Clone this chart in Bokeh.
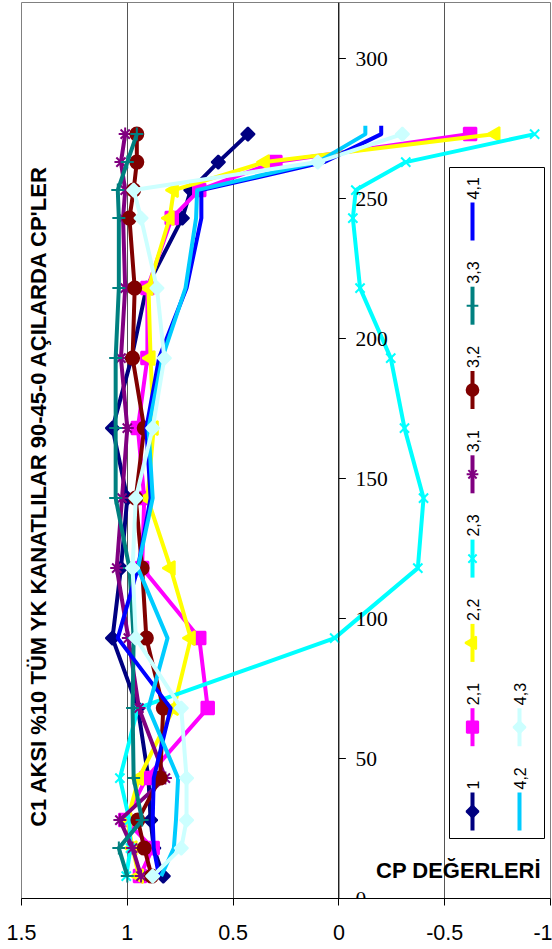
import math
from bokeh.plotting import figure
from bokeh.models import Range1d, FixedTicker, Span, LabelSet, ColumnDataSource, NumeralTickFormatter
from bokeh.core.properties import value
from bokeh.embed import file_html
from bokeh.resources import INLINE

# ---------------- data ----------------
Y_LEVELS = [273, 263, 253, 243, 218, 193, 168, 143, 118, 93, 68, 43, 28, 18, 8]
# series 4,1 and 4,2 carry one extra reading at the top
Y_LEVELS_4 = [276] + Y_LEVELS

CP_1   = [0.43, 0.57, 0.70, 0.74, 0.91, 0.98, 1.07, 1.00, 1.03, 1.07, 0.95, 0.90, 0.89, 0.875, 0.83]
CP_2_1 = [-0.62, 0.30, 0.66, 0.79, 0.905, 0.905, 0.95, 0.92, 0.93, 0.66, 0.62, 0.91, 1.01, 0.88, 0.94]
CP_2_2 = [-0.74, 0.35, 0.78, 0.80, 0.90, 0.89, 0.875, 0.905, 0.795, 0.70, 0.78, 0.945, 1.0, 0.975, 0.945]
CP_2_3 = [-0.925, -0.316, -0.08, -0.066, -0.10, -0.245, -0.31, -0.40, -0.373, 0.02, 0.95, 1.035, 0.99, 0.985, 1.005]
CP_3_1 = [1.01, 1.03, 1.01, 1.02, 1.01, 1.03, 1.0, 1.025, 1.05, 0.995, 0.945, 0.82, 1.035, 0.975, 0.935]
CP_3_2 = [0.955, 0.955, 0.97, 0.99, 0.965, 0.975, 0.92, 0.96, 0.93, 0.91, 0.83, 0.845, 0.95, 0.92, 0.885]
CP_3_3 = [0.955, 1.0, 1.045, 1.04, 1.04, 1.055, 1.055, 1.055, 0.99, 0.97, 0.975, 0.97, 0.93, 1.04, 1.0]
CP_4_1 = [-0.20, -0.20, 0.07, 0.65, 0.65, 0.72, 0.85, 0.91, 0.89, 0.95, 1.045, 0.795, 0.875, 0.88, 0.875, 0.85]
CP_4_2 = [-0.125, -0.125, 0.10, 0.67, 0.675, 0.725, 0.835, 0.90, 0.88, 0.95, 0.81, 0.90, 0.76, 0.77, 0.78, 0.84]
CP_4_3 = [-0.30, 0.10, 0.97, 0.935, 0.86, 0.825, 0.88, 0.96, 0.975, 0.96, 0.745, 0.72, 0.72, 0.745, 0.88]

SERIES_NAMES = ["1", "2,1", "2,2", "2,3", "3,1", "3,2", "3,3", "4,1", "4,2", "4,3"]
SERIES_VALUES = [CP_1, CP_2_1, CP_2_2, CP_2_3, CP_3_1, CP_3_2, CP_3_3, CP_4_1, CP_4_2, CP_4_3]
SERIES_LEVELS = [Y_LEVELS] * 7 + [Y_LEVELS_4, Y_LEVELS_4, Y_LEVELS]

X_TICKS = [1.5, 1, 0.5, 0, -0.5, -1]
X_TICK_LABELS = ["1.5", "1", "0.5", "0", "-0.5", "-1"]
Y_TICKS = [0, 50, 100, 150, 200, 250, 300]
Y_TICK_LABELS = ["0", "50", "100", "150", "200", "250", "300"]

TITLE = "C1 AKSI %10 TÜM YK KANATLILAR  90-45-0 AÇILARDA CP'LER"
X_TITLE = "CP DEĞERLERİ"

# ---------------- styles ----------------
STYLES = {
    "1":   dict(color="#000080", marker="square", size=9.5, angle=math.pi / 4),
    "2,1": dict(color="#FF00FF", marker="square", size=12.5, angle=0.0),
    "2,2": dict(color="#FFFF00", marker="triangle", size=14, angle=math.pi / 2),
    "2,3": dict(color="#00FFFF", marker="x", size=13, angle=0.0),
    "3,1": dict(color="#800080", marker="asterisk", size=13, angle=0.0),
    "3,2": dict(color="#800000", marker="circle", size=13, angle=0.0),
    "3,3": dict(color="#008080", marker="cross", size=13, angle=0.0),
    "4,1": dict(color="#0000FF", marker=None, size=0, angle=0.0),
    "4,2": dict(color="#00CCFF", marker=None, size=0, angle=0.0),
    "4,3": dict(color="#CCFFFF", marker="square", size=9.5, angle=math.pi / 4),
}
FONT = value("Liberation Sans")


def ref_x(px):
    # layout helper: page pixel column -> data x
    return 1.5 - (px - 21.0) / 211.6


def ref_y(py):
    # layout helper: page pixel row -> data y
    return (898.0 - py) / 2.8


p = figure(width=552, height=949,
           x_range=Range1d(1.5, -1), y_range=Range1d(0, 320),
           output_backend="svg", toolbar_location=None,
           y_axis_location=None,
           min_border_left=21, min_border_right=2,
           min_border_top=2, min_border_bottom=51)
p.background_fill_color = "white"
p.border_fill_color = "white"
p.outline_line_color = "#808080"
p.outline_line_width = 1

# x axis
ax = p.xaxis[0]
ax.ticker = FixedTicker(ticks=X_TICKS)
ax.formatter = NumeralTickFormatter(format="0.[0]")
ax.major_label_overrides = {float(t): l for t, l in zip(X_TICKS, X_TICK_LABELS)}
ax.axis_line_color = "black"
ax.major_tick_line_color = "black"
ax.major_tick_out = 7
ax.major_tick_in = 0
ax.minor_tick_out = 0
ax.minor_tick_in = 0
ax.major_label_standoff = 19
ax.major_label_text_font = "Liberation Sans"
ax.major_label_text_font_size = "21.5px"
ax.major_label_text_color = "black"

p.xgrid.ticker = FixedTicker(ticks=X_TICKS)
p.xgrid.grid_line_color = "#555555"
p.xgrid.grid_line_width = 1
p.ygrid.visible = False

# y axis drawn at x = 0
p.add_layout(Span(location=0, dimension="height", line_color="black", line_width=1))
tick_len = ref_x(345) - ref_x(338)
p.segment(x0=[0] * len(Y_TICKS), y0=Y_TICKS, x1=[tick_len] * len(Y_TICKS), y1=Y_TICKS,
          line_color="black", line_width=1)
ysrc = ColumnDataSource(dict(x=[ref_x(355)] * len(Y_TICKS), y=Y_TICKS, text=Y_TICK_LABELS))
p.add_layout(LabelSet(x="x", y="y", text="text", source=ysrc, text_align="left",
                      text_baseline="middle", text_font="Liberation Sans",
                      text_font_size="21.5px", text_color="black"))

# series
for name, vals, levels in zip(SERIES_NAMES, SERIES_VALUES, SERIES_LEVELS):
    st = STYLES[name]
    src = ColumnDataSource(dict(x=vals, y=levels))
    p.line("x", "y", source=src, line_color=st["color"], line_width=4, line_join="round")
    if st["marker"]:
        p.scatter("x", "y", source=src, marker=st["marker"], size=st["size"], angle=st["angle"],
                  fill_color=st["color"], line_color=st["color"], line_width=2)

# legend (rotated like the reference)
p.quad(left=[ref_x(449)], right=[ref_x(544)], top=[ref_y(167)], bottom=[ref_y(838)],
       fill_color="white", line_color="black", line_width=1)
LEG_COL1 = ["1", "2,1", "2,2", "2,3", "3,1", "3,2", "3,3", "4,1"]
LEG_COL2 = ["4,2", "4,3"]
entries = [(n, 472, k) for k, n in enumerate(LEG_COL1)] + [(n, 519, k) for k, n in enumerate(LEG_COL2)]
for name, cx, k in entries:
    st = STYLES[name]
    bottom = 830 - 84.3 * k
    top = bottom - 38
    xx = ref_x(cx)
    p.segment(x0=[xx], y0=[ref_y(bottom)], x1=[xx], y1=[ref_y(top)], line_color=st["color"], line_width=4)
    if st["marker"]:
        p.scatter(x=[xx], y=[ref_y((top + bottom) / 2)], marker=st["marker"], size=st["size"] * 0.9,
                  angle=st["angle"], fill_color=st["color"], line_color=st["color"], line_width=2)
    p.text(x=[xx], y=[ref_y(top - 3)], text=[name], angle=math.pi / 2, text_align="left",
           text_baseline="middle", text_font=FONT, text_font_size="16px", text_color="black")

# titles
p.text(x=[ref_x(38)], y=[ref_y(492)], text=[TITLE], angle=math.pi / 2, text_align="center",
       text_baseline="middle", text_font=FONT, text_font_style="bold", text_font_size="22px",
       text_color="black")
p.text(x=[ref_x(458)], y=[ref_y(870)], text=[X_TITLE], text_align="center",
       text_baseline="middle", text_font=FONT, text_font_style="bold", text_font_size="22px",
       text_color="black")

open("out.html", "w").write(file_html(p, INLINE))
